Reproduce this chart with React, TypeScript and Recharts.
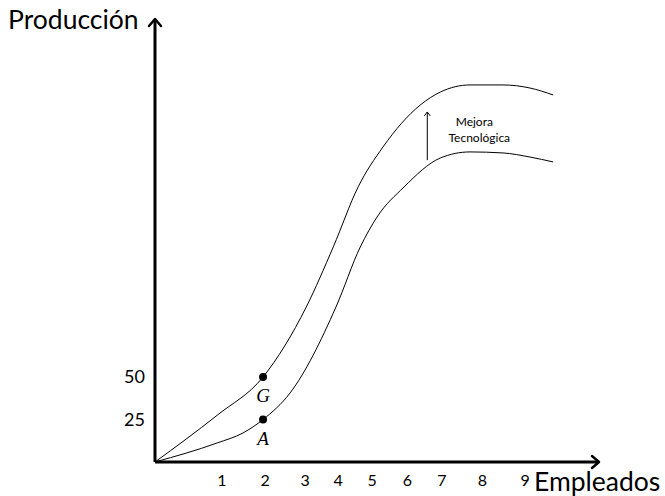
import React from "react";
import {
  ComposedChart,
  Line,
  XAxis,
  YAxis,
  ReferenceDot,
  ReferenceLine,
} from "recharts";

// Curva original (pasa por A)
const lowerCurve = [
  { x: 0, y: 0 },
  { x: 1.15, y: 11.2 },
  { x: 1.63, y: 17.1 },
  { x: 2, y: 25 },
  { x: 2.5, y: 40.6 },
  { x: 3.35, y: 91.2 },
  { x: 3.8, y: 126.5 },
  { x: 4.11, y: 144.1 },
  { x: 4.61, y: 161.8 },
  { x: 5.28, y: 178.8 },
  { x: 5.83, y: 182.4 },
  { x: 6.44, y: 181.8 },
  { x: 6.94, y: 179.4 },
  { x: 7.37, y: 176.5 },
];

// Curva con mejora tecnológica (pasa por G)
const upperCurve = [
  { x: 0, y: 0 },
  { x: 1.15, y: 27.5 },
  { x: 2, y: 50 },
  { x: 2.8, y: 91.2 },
  { x: 3.3, y: 126.5 },
  { x: 3.76, y: 161.8 },
  { x: 4.22, y: 185.3 },
  { x: 4.91, y: 210 },
  { x: 5.28, y: 217.6 },
  { x: 5.83, y: 221.8 },
  { x: 6.44, y: 221.8 },
  { x: 6.94, y: 220 },
  { x: 7.37, y: 215.9 },
];

// puntos marcados
const pointA = { x: 2, y: 25, label: "A" };
const pointG = { x: 2, y: 50, label: "G" };

// etiquetas del eje X (posición en el eje / texto)
const xTickPos = [1.24, 2.04, 2.78, 3.39, 4.02, 4.67, 5.31, 6.06, 6.85];
const xTickLabels = ["1", "2", "3", "4", "5", "6", "7", "8", "9"];
const yTicks = [25, 50];

// flecha "Mejora Tecnológica"
const improveX = 5.04;
const improveFrom = 177.6;
const improveTo = 205.9;

const X_MAX = 8.2;
const Y_MAX = 260;

const SANS = "Lato, 'Open Sans', sans-serif";
const SERIF = "'Liberation Serif', 'DejaVu Serif', serif";

function XTick({ x, y, payload }: any) {
  const i = xTickPos.indexOf(payload.value);
  return (
    <text x={x} y={y + 16} textAnchor="middle" fontFamily={SANS} fontSize={16} fill="#000">
      {xTickLabels[i]}
    </text>
  );
}

function YTick({ y, payload }: any) {
  return (
    <text x={145} y={y + 6} textAnchor="end" fontFamily={SANS} fontSize={18} fill="#000">
      {payload.value}
    </text>
  );
}

export default function App() {
  return (
    <div style={{ position: "fixed", left: 0, top: 0, background: "#fff" }}>
      <ComposedChart
        width={665}
        height={496}
        margin={{ top: 20, right: 67, left: 0, bottom: 0 }}
      >
        <XAxis
          type="number"
          dataKey="x"
          domain={[0, X_MAX]}
          ticks={xTickPos}
          interval={0}
          tick={<XTick />}
          tickLine={false}
          height={34}
          axisLine={{ stroke: "#000", strokeWidth: 3 }}
          allowDataOverflow
        />
        <YAxis
          type="number"
          dataKey="y"
          domain={[0, Y_MAX]}
          ticks={yTicks}
          interval={0}
          tick={<YTick />}
          tickLine={false}
          width={155}
          axisLine={{ stroke: "#000", strokeWidth: 3 }}
          allowDataOverflow
        />

        <Line
          data={upperCurve}
          dataKey="y"
          type="monotoneX"
          stroke="#000"
          strokeWidth={1}
          dot={false}
          activeDot={false}
          isAnimationActive={false}
        />
        <Line
          data={lowerCurve}
          dataKey="y"
          type="monotoneX"
          stroke="#000"
          strokeWidth={1}
          dot={false}
          activeDot={false}
          isAnimationActive={false}
        />

        {/* puntos G y A */}
        {[pointG, pointA].map((p) => (
          <ReferenceDot
            key={p.label}
            x={p.x}
            y={p.y}
            r={4}
            ifOverflow="visible"
            shape={(props: any) => (
              <g>
                <circle cx={props.cx} cy={props.cy} r={4} fill="#000" />
                <text
                  x={props.cx}
                  y={props.cy + 25}
                  textAnchor="middle"
                  fontFamily={SERIF}
                  fontStyle="italic"
                  fontSize={19}
                  fill="#000"
                >
                  {p.label}
                </text>
              </g>
            )}
          />
        ))}

        {/* flecha de mejora tecnológica */}
        <ReferenceLine
          segment={[
            { x: improveX, y: improveFrom },
            { x: improveX, y: improveTo },
          ]}
          stroke="#000"
          strokeWidth={1}
          ifOverflow="visible"
        />
        <ReferenceDot
          x={improveX}
          y={improveTo}
          ifOverflow="visible"
          shape={(props: any) => (
            <g>
              <path
                d={`M${props.cx - 3},${props.cy + 4} L${props.cx},${props.cy} L${props.cx + 3},${props.cy + 4}`}
                fill="none"
                stroke="#000"
                strokeWidth={1}
              />
              <text fontFamily={SANS} fontSize={12} fill="#000" textAnchor="middle">
                <tspan x={props.cx + 47} y={props.cy + 14}>Mejora</tspan>
                <tspan x={props.cx + 52} y={props.cy + 30}>Tecnológica</tspan>
              </text>
            </g>
          )}
        />

        {/* punta del eje X + título */}
        <ReferenceDot
          x={X_MAX}
          y={0}
          ifOverflow="visible"
          shape={(props: any) => (
            <g>
              <path
                d={`M${props.cx - 6},${props.cy - 6} L${props.cx + 1},${props.cy} L${props.cx - 6},${props.cy + 6}`}
                fill="none"
                stroke="#000"
                strokeWidth={2.5}
                strokeLinecap="round"
                strokeLinejoin="round"
              />
              <text x={props.cx - 64} y={props.cy + 29} fontFamily={SANS} fontSize={26.5} fill="#000">
                Empleados
              </text>
            </g>
          )}
        />

        {/* punta del eje Y + título */}
        <ReferenceDot
          x={0}
          y={Y_MAX}
          ifOverflow="visible"
          shape={(props: any) => (
            <g>
              <path
                d={`M${props.cx - 6},${props.cy + 6} L${props.cx},${props.cy - 1} L${props.cx + 6},${props.cy + 6}`}
                fill="none"
                stroke="#000"
                strokeWidth={2.5}
                strokeLinecap="round"
                strokeLinejoin="round"
              />
              <text x={props.cx - 147} y={props.cy + 9} fontFamily={SANS} fontSize={26.5} fill="#000">
                Producción
              </text>
            </g>
          )}
        />
      </ComposedChart>
    </div>
  );
}
